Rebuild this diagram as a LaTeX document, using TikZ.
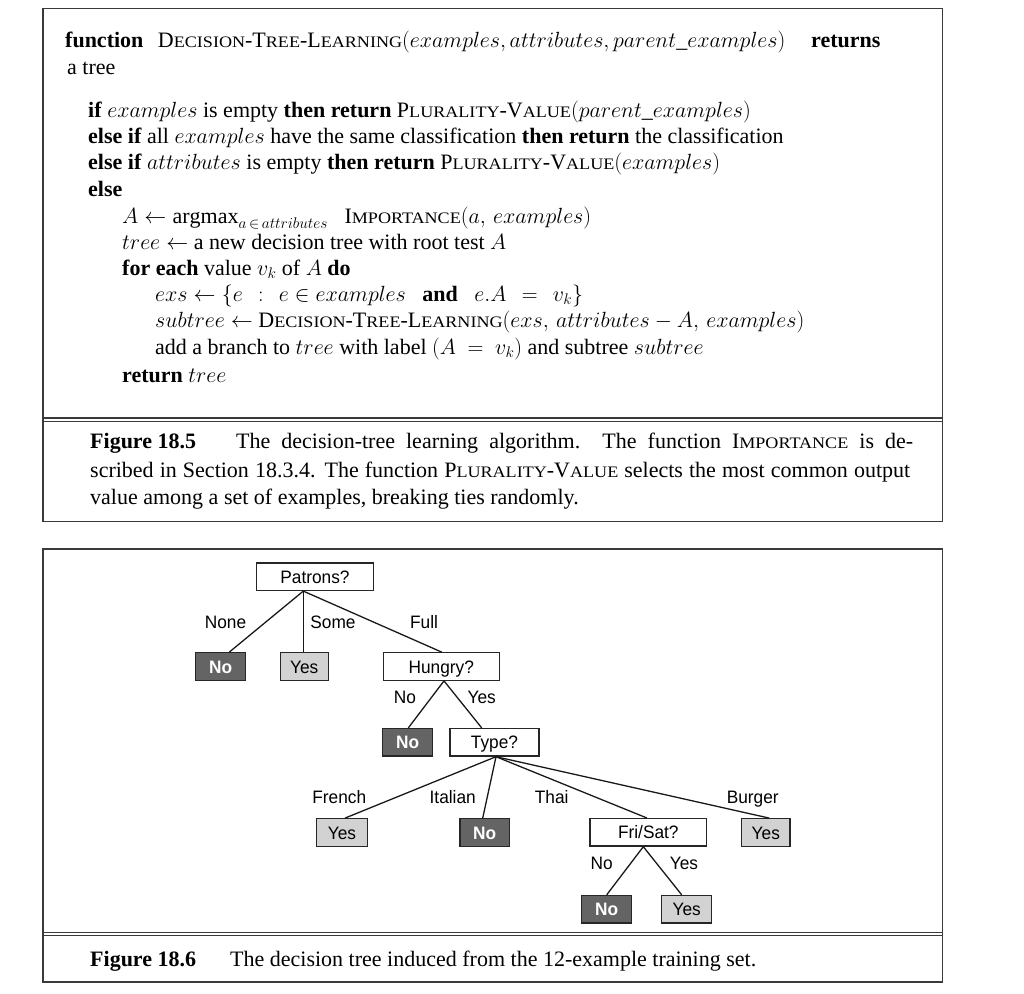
\RequirePackage{fix-cm}
\documentclass[tikz,border=0pt]{standalone}
\usepackage{fontspec}
\setmainfont{Liberation Serif}
\newfontfamily\tsans{Liberation Sans}
\usepackage{graphicx}
\usetikzlibrary{calc}
\definecolor{frame}{HTML}{3A3A3A}
\definecolor{darkleaf}{HTML}{646464}
\definecolor{lightleaf}{HTML}{D2D2D2}
\newcommand\czf{1.0}
\newcommand\cz[1]{\scalebox{\czf}[1]{#1}}
\newcommand\tz[1]{\scalebox{0.96}[1]{#1}}
\newcommand\smc[1]{\scalebox{1.13}[1]{\fontsize{16}{20}\selectfont #1}}
\newcommand\jline[2]{\pgfmathsetlengthmacro\jw{#1/\czf}\cz{\makebox[\jw][s]{#2}}}
\newcommand\DTL{D\smc{ECISION}-T\smc{REE}-L\smc{EARNING}}
\newcommand\PV{P\smc{LURALITY}-V\smc{ALUE}}
\tikzset{
  txt/.style={inner sep=0pt, anchor=base west, font=\fontsize{22}{26}\selectfont},
  outer/.style={draw=frame, line width=1.5pt},
  sep/.style={draw=frame, line width=1.1pt},
  tbox/.style={draw=black!85, line width=1.3pt, fill=white, minimum height=27.5pt,
    inner sep=0pt, text height=13pt, text depth=0pt, font=\tsans\fontsize{18}{20}\selectfont},
  leafno/.style={tbox, fill=darkleaf, text=white, font=\tsans\bfseries\fontsize{18}{20}\selectfont},
  leafyes/.style={tbox, fill=lightleaf},
  edge/.style={line width=1.3pt, draw=black!90},
  lbl/.style={inner sep=0pt, text height=13pt, text depth=0pt, font=\tsans\fontsize{18}{20}\selectfont}
}
\begin{document}
\begin{tikzpicture}[x=1pt, y=-1pt]
\useasboundingbox (0,0) rectangle (1024,993);
% ---------- Figure 18.5 ----------
\draw[outer] (43,8.5) rectangle (942.7,521.5);
\draw[sep] (43,418) -- (942.7,418);
\draw[sep] (43,421.2) -- (942.7,421.2);

\node[txt] (l1) at (65,47) {\cz{\textbf{function}\hspace{9pt} \DTL$(examples, attributes, parent\_examples)$}};
\node[txt] (l1r) at (811,47) {\cz{\textbf{returns}}};
\node[txt] (l2) at (67,74) {\cz{a tree}};
\node[txt] (l3) at (88,117) {\cz{\textbf{if} $examples$ is empty \textbf{then return} \PV$(parent\_examples)$}};
\node[txt] (l4) at (88,143) {\cz{\textbf{else if} all $examples$ have the same classification \textbf{then return} the classification}};
\node[txt] (l5) at (88,169) {\cz{\textbf{else if} $attributes$ is empty \textbf{then return} \PV$(examples)$}};
\node[txt] (l6) at (88,196) {\cz{\textbf{else}}};
\node[txt] (l7) at (122,223) {\cz{$A \leftarrow \mathrm{argmax}_{a\,\in\,attributes}$\ \ \ I\smc{MPORTANCE}$(a,\,examples)$}};
\node[txt] (l8) at (122,249) {\cz{$tree \leftarrow$ a new decision tree with root test $A$}};
\node[txt] (l9) at (122,275) {\cz{\textbf{for each} value $v_k$ of $A$ \textbf{do}}};
\node[txt] (l10) at (155,301) {\cz{$exs \leftarrow \{e\ \,:\ \,e \in examples\ \ \ \textbf{and}\ \ \ e.A\ \,=\ \,v_k\}$}};
\node[txt] (l11) at (155,327) {\cz{$subtree \leftarrow$ \DTL$(exs,\,attributes - A,\,examples)$}};
\node[txt] (l12) at (155,354) {\cz{add a branch to $tree$ with label $(A\ =\ v_k)$ and subtree $subtree$}};
\node[txt] (l13) at (122,382) {\cz{\textbf{return} $tree$}};

\node[txt] (c1a) at (90,448) {\cz{\textbf{Figure 18.5}}};
\node[txt] (c1b) at (236,448) {\jline{677}{The decision-tree learning algorithm.\ \ The function I\smc{MPORTANCE} is de-}};
\node[txt] (c1c) at (90,477) {\jline{820}{scribed in Section 18.3.4. The function \PV{} selects the most common output}};
\node[txt] (c1d) at (90,504) {\cz{value among a set of examples, breaking ties randomly.}};

% ---------- Figure 18.6 ----------
\draw[outer] (43,549) rectangle (942.7,982);
\draw[sep] (43,932.7) -- (942.7,932.7);
\draw[sep] (43,935.9) -- (942.7,935.9);
\node[txt] (c2a) at (90,966) {\cz{\textbf{Figure 18.6}}};
\node[txt] (c2b) at (230,966) {\cz{The decision tree induced from the 12-example training set.}};

% tree nodes
\node[tbox, minimum width=117pt] (pat) at (315,576.7) {\tz{Patrons?}};
\node[leafno, minimum width=50pt] (no1) at (220.7,666.5) {\tz{No}};
\node[leafyes, minimum width=48pt] (yes1) at (304.2,666.5) {\tz{Yes}};
\node[tbox, minimum width=116pt] (hun) at (441.3,666.5) {\tz{Hungry?}};
\node[leafno, minimum width=50pt] (no2) at (407.7,742.3) {\tz{No}};
\node[tbox, minimum width=89pt] (typ) at (494.5,742.3) {\tz{Type?}};
\node[leafyes, minimum width=50.5pt] (yes2) at (342,832.5) {\tz{Yes}};
\node[leafno, minimum width=49.3pt] (no3) at (484.7,832.5) {\tz{No}};
\node[tbox, minimum width=116.7pt] (fri) at (648.3,832.3) {\tz{Fri/Sat?}};
\node[leafyes, minimum width=48.3pt] (yes3) at (765.8,832.5) {\tz{Yes}};
\node[leafno, minimum width=50pt] (no4) at (606.7,909.2) {\tz{No}};
\node[leafyes, minimum width=50pt] (yes4) at (686.7,909.2) {\tz{Yes}};

% edges
\draw[edge] ([xshift=-11.7pt]pat.south) -- ([xshift=8.6pt]no1.north);
\draw[edge] ([xshift=-11.7pt]pat.south) -- ([xshift=-0.9pt]yes1.north);
\draw[edge] ([xshift=-11.7pt]pat.south) -- ([xshift=0.4pt]hun.north);
\draw[edge] ([xshift=2.7pt]hun.south) -- ([xshift=0.6pt]no2.north);
\draw[edge] ([xshift=2.7pt]hun.south) -- ([xshift=-12.8pt]typ.north);
\draw[edge] ([xshift=1.5pt]typ.south) -- ([xshift=3pt]yes2.north);
\draw[edge] ([xshift=1.5pt]typ.south) -- ([xshift=-2pt]no3.north);
\draw[edge] ([xshift=1.5pt]typ.south) -- ([xshift=-1.6pt]fri.north);
\draw[edge] ([xshift=1.5pt]typ.south) -- ([xshift=3.5pt]yes3.north);
\draw[edge] ([xshift=-5pt]fri.south) -- (no4.north);
\draw[edge] ([xshift=-5pt]fri.south) -- ([xshift=-5pt]yes4.north);

% edge labels
\node[lbl] (lnone) at (225.5,621.7) {\tz{None}};
\node[lbl] (lsome) at (333,621.7) {\tz{Some}};
\node[lbl] (lfull) at (424,621.7) {\tz{Full}};
\node[lbl] (lhno) at (405,696.7) {\tz{No}};
\node[lbl] (lhyes) at (481.7,696.7) {\tz{Yes}};
\node[lbl] (lfr) at (339.3,796.7) {\tz{French}};
\node[lbl] (lit) at (452.7,796.7) {\tz{Italian}};
\node[lbl] (lth) at (551.7,796.7) {\tz{Thai}};
\node[lbl] (lbu) at (752.7,796.7) {\tz{Burger}};
\node[lbl] (lfno) at (601.7,863.3) {\tz{No}};
\node[lbl] (lfyes) at (684,863.3) {\tz{Yes}};
\end{tikzpicture}
\end{document}
